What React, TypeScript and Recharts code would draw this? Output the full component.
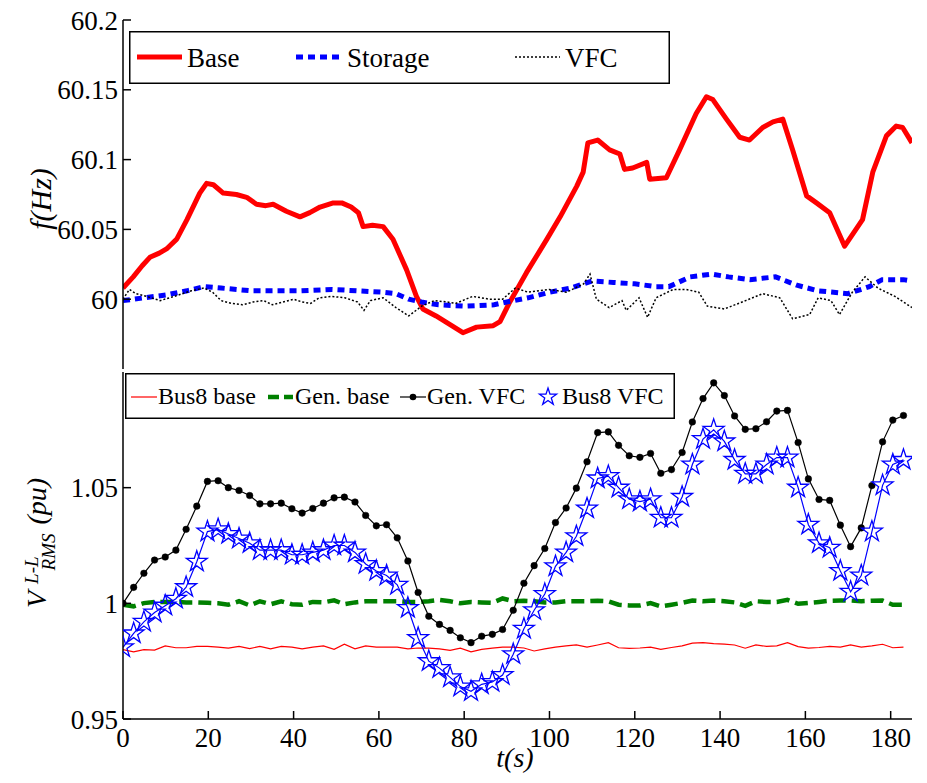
import { LineChart, Line, XAxis, YAxis, Legend, Label } from 'recharts';

const FONT = '"Liberation Serif", "Times New Roman", serif';

// ---- top panel: frequency (Hz), each trace has its own time samples ----
const baseT = [0, 2.4, 4.5, 6.3, 8.5, 10.2, 12.6, 15, 18, 19.6, 21.2, 23.5, 26.6, 29, 31.3, 33.5, 35.2, 38.3, 41.5, 43.8, 46.2, 49.3, 51.3, 53.5, 55.2, 56.3, 58.5, 61, 63.3, 66.5, 68.8, 70.3, 73.4, 76.6, 79.7, 82.9, 86.8, 88.4, 90.7, 94.6, 99.4, 102.5, 106.4, 107.9, 109, 111.3, 114.1, 116.5, 117.6, 119.5, 122.8, 123.5, 127.4, 130.5, 134.4, 136.8, 138.3, 141.5, 144.6, 146.9, 150, 152.4, 154.7, 157, 160.3, 162.6, 165.7, 169.2, 173.4, 175.8, 179, 181.3, 182.8, 185];
const baseF = [60.008, 60.016, 60.024, 60.03, 60.033, 60.036, 60.043, 60.057, 60.076, 60.083, 60.082, 60.076, 60.075, 60.073, 60.068, 60.067, 60.068, 60.063, 60.059, 60.062, 60.066, 60.069, 60.069, 60.066, 60.062, 60.052, 60.053, 60.052, 60.043, 60.021, 60.002, 59.993, 59.988, 59.982, 59.976, 59.98, 59.981, 59.984, 59.998, 60.019, 60.043, 60.059, 60.081, 60.091, 60.112, 60.114, 60.107, 60.104, 60.093, 60.094, 60.098, 60.086, 60.087, 60.107, 60.133, 60.145, 60.143, 60.129, 60.116, 60.114, 60.123, 60.127, 60.129, 60.107, 60.074, 60.069, 60.062, 60.038, 60.057, 60.091, 60.117, 60.124, 60.123, 60.112];

const storageT = [0, 5, 10, 15, 19, 23, 30, 36, 41.5, 49, 55, 61, 64, 67, 70, 74, 80, 87, 90, 95, 100, 105, 110, 115, 120, 125, 128, 133, 138, 142, 147, 153, 158, 163, 170, 175, 178, 183, 185];
const storageF = [59.999, 60.001, 60.003, 60.006, 60.009, 60.008, 60.006, 60.006, 60.006, 60.007, 60.006, 60.005, 60.004, 60.0, 59.998, 59.996, 59.995, 59.996, 59.998, 60.001, 60.005, 60.008, 60.013, 60.012, 60.011, 60.009, 60.009, 60.016, 60.018, 60.016, 60.014, 60.016, 60.01, 60.006, 60.004, 60.009, 60.014, 60.014, 60.013];

const vfcT = [0, 1.5, 3, 5.5, 8.7, 12, 16, 19, 21, 23, 25.5, 28, 30.5, 33, 35, 37.5, 40, 42, 44, 46, 49, 52, 55, 56.5, 58, 61, 64, 67, 70, 73, 76, 78, 82, 86, 89, 92, 95, 100, 104, 108, 109.5, 111, 114, 117, 118, 121, 123, 125, 129, 132, 135, 137, 141, 146, 150, 154, 157, 161, 163, 166, 168, 171, 174, 177, 181, 185];
const vfcF = [60.0, 60.007, 60.004, 60.002, 59.999, 60.002, 60.006, 60.008, 60.005, 59.999, 59.997, 59.996, 59.998, 59.999, 59.996, 59.998, 60.0, 59.998, 59.997, 60.001, 60.002, 60.001, 59.998, 59.992, 59.999, 60.001, 59.994, 59.988, 59.995, 59.999, 59.998, 59.997, 60.002, 60.0, 60.0, 60.008, 60.005, 60.007, 60.005, 60.011, 60.018, 60.0, 59.994, 59.999, 59.992, 60.001, 59.987, 60.001, 60.007, 60.007, 60.005, 59.995, 59.993, 59.999, 60.004, 60.001, 59.986, 59.989, 60.001, 59.999, 59.989, 60.005, 60.016, 60.008, 60.002, 59.994];

// ---- bottom panel: voltage (pu), shared sample times ----
const tSample = [0, 2.5, 4.9, 7.4, 9.9, 12.4, 14.8, 17.3, 19.8, 22.3, 24.7, 27.2, 29.7, 32.1, 34.6, 37.1, 39.6, 42, 44.5, 47, 49.5, 51.9, 54.4, 56.9, 59.4, 61.8, 64.3, 66.8, 69.2, 71.7, 74.2, 76.7, 79.1, 81.6, 84.1, 86.6, 89, 91.5, 94, 96.4, 98.9, 101.4, 103.9, 106.3, 108.8, 111.3, 113.8, 116.2, 118.7, 121.2, 123.7, 126.1, 128.6, 131.1, 133.5, 136, 138.5, 141, 143.4, 145.9, 148.4, 150.9, 153.3, 155.8, 158.3, 160.7, 163.2, 165.7, 168.2, 170.6, 173.1, 175.6, 178.1, 180.5, 183];
const bus8Base = [0.98, 0.979, 0.98, 0.9798, 0.9816, 0.9808, 0.9808, 0.9814, 0.9814, 0.9811, 0.9806, 0.9814, 0.9804, 0.9814, 0.9803, 0.9814, 0.9811, 0.9803, 0.9811, 0.9816, 0.9801, 0.9823, 0.9803, 0.9816, 0.9811, 0.9811, 0.9811, 0.9803, 0.9807, 0.9806, 0.9803, 0.9797, 0.9806, 0.979, 0.9801, 0.9806, 0.9811, 0.9811, 0.9807, 0.9794, 0.9803, 0.9811, 0.9816, 0.982, 0.9811, 0.982, 0.983, 0.9808, 0.9805, 0.9807, 0.9811, 0.9801, 0.9809, 0.9816, 0.9828, 0.983, 0.9826, 0.9824, 0.982, 0.9806, 0.982, 0.9814, 0.9816, 0.983, 0.9813, 0.9806, 0.9809, 0.9814, 0.9811, 0.982, 0.9811, 0.9816, 0.9823, 0.9808, 0.9811];
const genBase = [0.9994, 0.9987, 1.0001, 1.0006, 1.0006, 1.0006, 1.0004, 1.0004, 1.0002, 1.0, 0.9994, 1.0009, 0.9991, 1.0009, 0.9996, 1.0009, 0.9996, 0.9994, 1.0006, 1.0004, 1.0013, 0.9996, 1.0004, 1.0009, 1.0009, 1.0009, 1.0009, 1.0006, 1.0006, 1.0009, 1.0015, 1.0009, 1.0, 1.0006, 1.0004, 1.0002, 1.0021, 1.0009, 1.0011, 1.0009, 1.0004, 1.0004, 1.0009, 1.0009, 1.0009, 1.0011, 1.0009, 0.9994, 0.9991, 0.9991, 1.0001, 0.9987, 0.9994, 1.0002, 1.0012, 1.0009, 1.0012, 1.0009, 1.0004, 0.9989, 1.0009, 1.0006, 1.0006, 1.0015, 0.9998, 1.0002, 1.0006, 1.0011, 1.0012, 1.0012, 1.0009, 1.0011, 1.0012, 0.9994, 0.9994];
const genVfc = [1.0, 1.0069, 1.013, 1.0187, 1.02, 1.023, 1.032, 1.042, 1.0527, 1.053, 1.05, 1.0488, 1.0466, 1.043, 1.043, 1.0433, 1.0409, 1.039, 1.041, 1.0433, 1.0456, 1.0459, 1.0438, 1.038, 1.0335, 1.034, 1.0283, 1.0183, 1.0047, 0.9944, 0.9909, 0.9883, 0.9851, 0.983, 0.9858, 0.9866, 0.9887, 0.997, 1.0087, 1.0163, 1.0237, 1.0349, 1.0412, 1.0498, 1.0612, 1.0738, 1.0741, 1.0683, 1.0638, 1.0631, 1.0648, 1.0562, 1.0578, 1.0652, 1.0784, 1.0885, 1.0953, 1.0898, 1.081, 1.0752, 1.0755, 1.0785, 1.0831, 1.0834, 1.0695, 1.0538, 1.0449, 1.0445, 1.0338, 1.0245, 1.0326, 1.0509, 1.0698, 1.0792, 1.0812];
const bus8Vfc = [0.981, 0.987, 0.992, 0.996, 0.999, 1.002, 1.007, 1.018, 1.031, 1.032, 1.03, 1.028, 1.026, 1.023, 1.023, 1.023, 1.021, 1.021, 1.022, 1.023, 1.025, 1.025, 1.022, 1.017, 1.014, 1.012, 1.008, 0.998, 0.985, 0.975, 0.972, 0.968, 0.964, 0.962, 0.965, 0.966, 0.969, 0.978, 0.989, 0.997, 1.004, 1.016, 1.022, 1.029, 1.041, 1.054, 1.055, 1.05, 1.045, 1.044, 1.045, 1.037, 1.037, 1.046, 1.06, 1.071, 1.075, 1.07, 1.062, 1.056, 1.056, 1.06, 1.063, 1.063, 1.05, 1.034, 1.026, 1.024, 1.014, 1.005, 1.012, 1.031, 1.051, 1.06, 1.062];

const xTicks = [0, 20, 40, 60, 80, 100, 120, 140, 160, 180];
const fTicks = [60, 60.05, 60.1, 60.15, 60.2];
const vTicks = [0.95, 1, 1.05];

const zip = (ts: number[], vs: number[]) => ts.map((t, i) => ({ t, v: vs[i] }));

const baseData = zip(baseT, baseF);
const storageData = zip(storageT, storageF);
const vfcData = zip(vfcT, vfcF);
const bus8BaseData = zip(tSample, bus8Base);
const genBaseData = zip(tSample, genBase);
const genVfcData = zip(tSample, genVfc);
const bus8VfcData = zip(tSample, bus8Vfc);

const frame = { stroke: '#000', strokeWidth: 1.5 };
const tickFont = { fontSize: 27, fontFamily: FONT, fill: '#000' };

function starPoints(cx: number, cy: number, r: number) {
  const pts: string[] = [];
  for (let i = 0; i < 10; i++) {
    const rad = i % 2 === 0 ? r : r * 0.382;
    const a = -Math.PI / 2 + (i * Math.PI) / 5;
    pts.push(`${cx + rad * Math.cos(a)},${cy + rad * Math.sin(a)}`);
  }
  return pts.join(' ');
}

const StarDot = (props: any) => {
  const { cx, cy, index } = props;
  if (cx == null || cy == null) return <g key={index} />;
  return (
    <polygon key={index} points={starPoints(cx, cy, 11)} fill="none" stroke="#0000ff" strokeWidth={1.3} />
  );
};

const TopLegend = () => (
  <svg width={541} height={53} style={{ display: 'block' }}>
    <rect x={0.75} y={0.75} width={539.5} height={51.5} fill="#fff" stroke="#000" strokeWidth={1.5} />
    <g fontFamily={FONT} fontSize={27} fill="#000">
      <line x1={8} x2={53} y1={26} y2={26} stroke="#ff0000" strokeWidth={5} />
      <text x={58} y={36}>Base</text>
      <line x1={167} x2={213} y1={26} y2={26} stroke="#0000ff" strokeWidth={5} strokeDasharray="7 5" />
      <text x={218} y={36}>Storage</text>
      <line x1={386} x2={431} y1={26} y2={26} stroke="#000" strokeWidth={1.5} strokeDasharray="2 2" />
      <text x={436} y={36}>VFC</text>
    </g>
  </svg>
);

const BottomLegend = () => (
  <svg width={550} height={46} style={{ display: 'block' }}>
    <rect x={0.75} y={0.75} width={548.5} height={44.5} fill="#fff" stroke="#000" strokeWidth={1.5} />
    <g fontFamily={FONT} fontSize={24} fill="#000">
      <line x1={6} x2={32} y1={24} y2={24} stroke="#ff0000" strokeWidth={1.2} />
      <text x={33} y={31}>Bus8 base</text>
      <line x1={143} x2={168} y1={24} y2={24} stroke="#008000" strokeWidth={4.5} strokeDasharray="11 5" />
      <text x={170} y={31}>Gen. base</text>
      <line x1={275} x2={301} y1={24} y2={24} stroke="#000" strokeWidth={1.2} />
      <circle cx={288} cy={24} r={3.3} fill="#000" />
      <text x={302} y={31}>Gen. VFC</text>
      <polygon points={starPoints(423, 24, 9)} fill="none" stroke="#0000ff" strokeWidth={1.3} />
      <text x={437} y={31}>Bus8 VFC</text>
    </g>
  </svg>
);

export default function App() {
  return (
    <div style={{ position: 'absolute', left: 0, top: 0, width: 927, height: 783, background: '#fff' }}>
      {/* frequency panel */}
      <div style={{ position: 'absolute', left: 0, top: 0 }}>
        <LineChart width={927} height={370} margin={{ top: 20, right: 15, bottom: 1, left: 0 }}>
          <XAxis xAxisId="b" type="number" dataKey="t" domain={[0, 185]} ticks={xTicks} interval={0} allowDataOverflow
            height={0} tick={false} tickSize={-8} axisLine={frame} tickLine={frame} />
          <XAxis xAxisId="t" orientation="top" type="number" dataKey="t" domain={[0, 185]} ticks={xTicks} interval={0}
            allowDataOverflow height={0} tick={false} tickSize={-8} axisLine={frame} tickLine={frame} />
          <YAxis yAxisId="l" type="number" domain={[59.95, 60.2]} ticks={fTicks} interval={0} allowDataOverflow width={123}
            tickSize={-8} tickMargin={13} tick={tickFont} axisLine={frame} tickLine={frame}>
            <Label
              content={() => (
                <text transform="translate(51,199) rotate(-90)" textAnchor="middle" fontFamily={FONT}
                  fontStyle="italic" fontSize={30} fill="#000">
                  f(Hz)
                </text>
              )}
            />
          </YAxis>
          <YAxis yAxisId="r" orientation="right" type="number" domain={[59.95, 60.2]} ticks={fTicks} interval={0}
            allowDataOverflow width={0} tick={false} tickSize={-8} axisLine={frame} tickLine={frame} />
          <Legend layout="horizontal" verticalAlign="middle" align="center" content={() => <TopLegend />}
            wrapperStyle={{ left: 129, top: 31, width: 541, height: 53 }} />
          <Line xAxisId="b" yAxisId="l" data={baseData} dataKey="v" name="Base" stroke="#ff0000" strokeWidth={5}
            strokeLinejoin="round" dot={false} activeDot={false} isAnimationActive={false} />
          <Line xAxisId="b" yAxisId="l" data={storageData} dataKey="v" name="Storage" stroke="#0000ff" strokeWidth={5}
            strokeDasharray="7 5" dot={false} activeDot={false} isAnimationActive={false} />
          <Line xAxisId="b" yAxisId="l" data={vfcData} dataKey="v" name="VFC" stroke="#000" strokeWidth={1.5}
            strokeDasharray="2 2" dot={false} activeDot={false} isAnimationActive={false} />
        </LineChart>
      </div>

      {/* voltage panel */}
      <div style={{ position: 'absolute', left: 0, top: 370 }}>
        <LineChart width={927} height={413} margin={{ top: 2, right: 15, bottom: 0, left: 0 }}>
          <XAxis xAxisId="b" type="number" dataKey="t" domain={[0, 185]} ticks={xTicks} interval={0} allowDataOverflow
            height={64} tick={tickFont} tickSize={-8} tickMargin={17} axisLine={frame} tickLine={frame}>
            <Label
              content={() => (
                <text x={515} y={397} textAnchor="middle" fontFamily={FONT} fontStyle="italic" fontSize={28} fill="#000">
                  t(s)
                </text>
              )}
            />
          </XAxis>
          <XAxis xAxisId="t" orientation="top" type="number" dataKey="t" domain={[0, 185]} ticks={xTicks} interval={0}
            allowDataOverflow height={0} tick={false} tickSize={-8} axisLine={frame} tickLine={frame} />
          <YAxis yAxisId="l" type="number" domain={[0.95, 1.1]} ticks={vTicks} interval={0} allowDataOverflow width={123}
            tickSize={-8} tickMargin={13} tick={tickFont} axisLine={frame} tickLine={frame}>
            <Label
              content={() => (
                <text transform="translate(46,238) rotate(-90)" fontFamily={FONT} fontStyle="italic" fontSize={28} fill="#000">
                  <tspan>V</tspan>
                  <tspan fontSize={19} dx={7} dy={-8}>L-L</tspan>
                  <tspan fontSize={19} dx={-14} dy={17}>RMS</tspan>
                  <tspan dx={9} dy={-9}>(pu)</tspan>
                </text>
              )}
            />
          </YAxis>
          <YAxis yAxisId="r" orientation="right" type="number" domain={[0.95, 1.1]} ticks={vTicks} interval={0}
            allowDataOverflow width={0} tick={false} tickSize={-8} axisLine={frame} tickLine={frame} />
          <Legend layout="horizontal" verticalAlign="middle" align="center" content={() => <BottomLegend />}
            wrapperStyle={{ left: 125, top: 3, width: 550, height: 46 }} />
          <Line xAxisId="b" yAxisId="l" data={bus8BaseData} dataKey="v" name="Bus8 base" stroke="#ff0000"
            strokeWidth={1.2} dot={false} activeDot={false} isAnimationActive={false} />
          <Line xAxisId="b" yAxisId="l" data={genBaseData} dataKey="v" name="Gen. base" stroke="#008000"
            strokeWidth={4.5} strokeDasharray="13 6" dot={false} activeDot={false} isAnimationActive={false} />
          <Line xAxisId="b" yAxisId="l" data={genVfcData} dataKey="v" name="Gen. VFC" stroke="#000" strokeWidth={1.2}
            dot={{ r: 3.3, fill: '#000', stroke: '#000', strokeWidth: 0.5 }} activeDot={false} isAnimationActive={false} />
          <Line xAxisId="b" yAxisId="l" data={bus8VfcData} dataKey="v" name="Bus8 VFC" stroke="#0000ff"
            strokeWidth={1.2} dot={StarDot} activeDot={false} isAnimationActive={false} />
        </LineChart>
      </div>
    </div>
  );
}
